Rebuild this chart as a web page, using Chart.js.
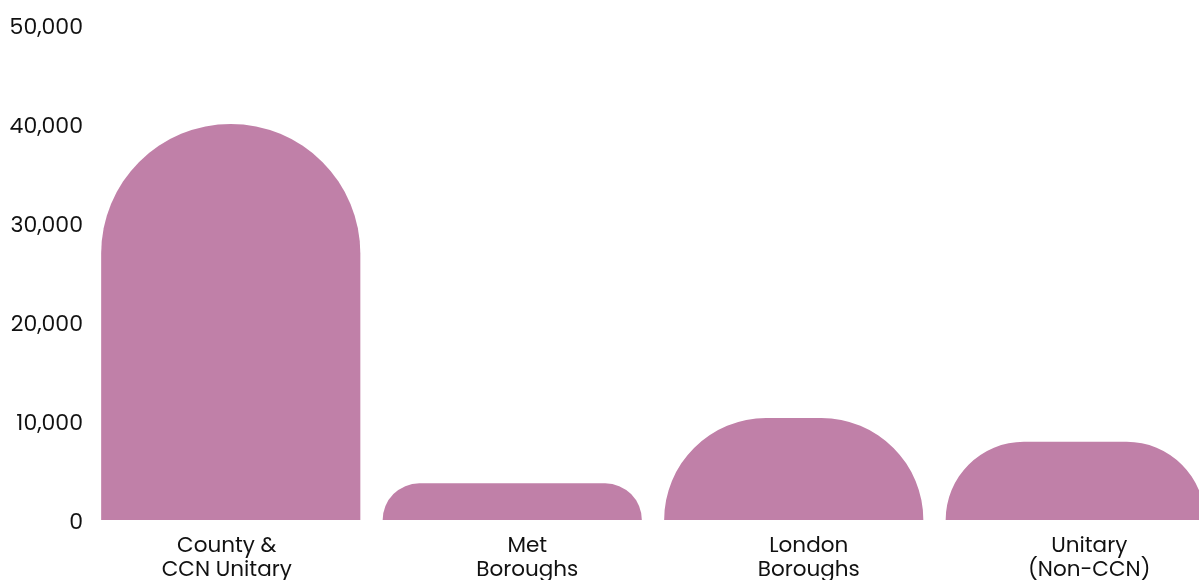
<!DOCTYPE html>
<html>
<head>
<meta charset="utf-8">
<script src="https://cdn.jsdelivr.net/npm/chart.js@4/dist/chart.umd.min.js"></script>
<style>
  html, body { margin: 0; padding: 0; overflow: hidden; background: #fff; }
  canvas { display: block; }
</style>
</head>
<body>
<canvas id="councilChart" width="1216" height="600"></canvas>
<script>
// Categorias y valores
const categories = [
    ['County &', 'CCN Unitary'],
    ['Met', 'Boroughs'],
    ['London', 'Boroughs'],
    ['Unitary', '(Non-CCN)']
];
const values = [40000, 3700, 10300, 7900];
const yTicks = [0, 10000, 20000, 30000, 40000, 50000];

const barColor = '#c080a8';
const fontFamily = "Poppins, 'Noto Sans', sans-serif";

// Desplazamiento horizontal de cada etiqueta del eje x (px)
const labelNudge = [-4, 15, 15, 14];

// Barras con la parte superior redondeada (radio = min(alto, medio ancho))
const domeBars = {
    id: 'domeBars',
    beforeDatasetDraw(chart, args) {
        const { ctx } = chart;
        const meta = args.meta;
        ctx.save();
        ctx.fillStyle = barColor;
        meta.data.forEach(bar => {
            const { x, y, base, width } = bar.getProps(['x', 'y', 'base', 'width'], true);
            const left = x - width / 2;
            const right = x + width / 2;
            const r = Math.min(width / 2, base - y);
            ctx.beginPath();
            ctx.moveTo(left, base);
            ctx.arc(left + r, y + r, r, Math.PI, 1.5 * Math.PI);
            ctx.lineTo(right - r, y);
            ctx.arc(right - r, y + r, r, 1.5 * Math.PI, 2 * Math.PI);
            ctx.lineTo(right, base);
            ctx.closePath();
            ctx.fill();
        });
        ctx.restore();
        return false;
    }
};

const canvas = document.getElementById('councilChart');
new Chart(canvas, {
    type: 'bar',
    data: {
        labels: categories,
        datasets: [{
            data: values,
            backgroundColor: barColor,
            barPercentage: 1,
            categoryPercentage: 0.924
        }]
    },
    options: {
        responsive: false,
        animation: false,
        layout: { padding: { top: 25, right: 0, bottom: 0, left: 0 } },
        plugins: {
            legend: { display: false },
            tooltip: { enabled: false }
        },
        scales: {
            x: {
                grid: { display: false, drawTicks: false },
                border: { display: false },
                ticks: {
                    color: '#111',
                    padding: 15,
                    maxRotation: 0,
                    font: { family: fontFamily, size: 21.5, lineHeight: 1.12 }
                },
                afterFit: (scale) => {
                    scale.height = 80;
                    if (!scale._nudged) {
                        const tickPixel = scale.getPixelForTick.bind(scale);
                        scale.getPixelForTick = (i) => tickPixel(i) + (labelNudge[i] || 0);
                        scale._nudged = true;
                    }
                }
            },
            y: {
                min: 0,
                max: 50000,
                grid: { display: false, drawTicks: false },
                border: { display: false },
                afterBuildTicks: (scale) => { scale.ticks = yTicks.map(v => ({ value: v })); },
                ticks: {
                    color: '#111',
                    padding: 7,
                    labelOffset: 3,
                    font: { family: fontFamily, size: 22 }
                },
                afterFit: (scale) => { scale.width = 90; }
            }
        }
    },
    plugins: [domeBars]
});
</script>
</body>
</html>
